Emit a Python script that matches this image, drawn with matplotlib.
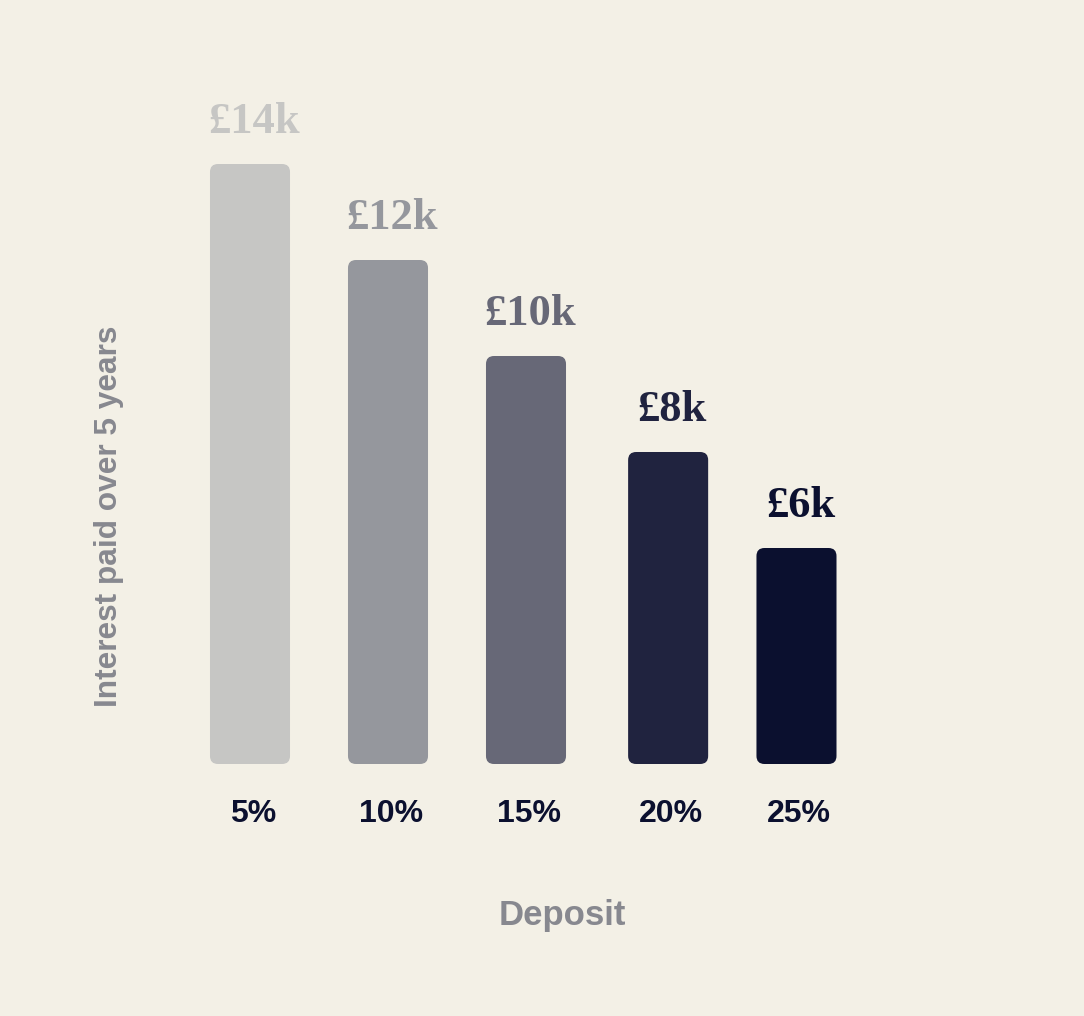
import matplotlib.pyplot as plt
from matplotlib.patches import FancyBboxPatch

# data
deposits = ['5%', '10%', '15%', '20%', '25%']
interest_k = [14, 12, 10, 8, 6]
value_labels = ['£14k', '£12k', '£10k', '£8k', '£6k']
bar_colors = ['#c6c6c4', '#95979d', '#676877', '#20233f', '#0b102f']

# layout (the source spaces the last two bars a little unevenly)
bar_x = [0, 1, 2, 3.03, 3.96]
bar_w = 0.58
y_floor = 1.5

bg = '#f3f0e6'
ink = '#0b102f'
label_grey = '#87888f'

fig = plt.figure(figsize=(10.84, 10.16), dpi=100, facecolor=bg)
ax = fig.add_axes([181 / 1084, (1016 - 764) / 1016, 690 / 1084, 696 / 1016])
ax.set_facecolor(bg)
ax.set_xlim(-0.5, 4.5)
ax.set_ylim(y_floor, y_floor + 696 / 48)

# px per data unit, used to keep the corners round
px_x = 690 / 5
px_y = 48
r = 8 / px_x

for x, v, c, lab in zip(bar_x, interest_k, bar_colors, value_labels):
    box = FancyBboxPatch((x - bar_w / 2, y_floor), bar_w, v - y_floor,
                         boxstyle='round,pad=0,rounding_size=%f' % r,
                         mutation_aspect=px_x / px_y,
                         facecolor=c, edgecolor='none', clip_on=False)
    ax.add_patch(box)
    ax.text(x + 0.03, v + 31 / px_y, lab, ha='center', va='baseline',
            fontsize=32, fontweight='bold', family='Liberation Serif', color=c)

for x, t in zip(bar_x, deposits):
    ax.text(x + 0.02, y_floor - 58 / px_y, t, ha='center', va='baseline',
            fontsize=23, fontweight='bold', family='Liberation Sans', color=ink)

for s in ax.spines.values():
    s.set_visible(False)
ax.set_xticks([])
ax.set_yticks([])

fig.text(562 / 1084, 1 - 925 / 1016, 'Deposit', ha='center', va='baseline',
         fontsize=25, fontweight='bold', family='Liberation Sans', color=label_grey)
fig.text(109 / 1084, 1 - 516 / 1016, 'Interest paid over 5 years', ha='center',
         va='center', rotation=90, fontsize=22.8, fontweight='bold',
         family='Liberation Sans', color=label_grey)

fig.savefig('out.png', dpi=100, facecolor=bg)
